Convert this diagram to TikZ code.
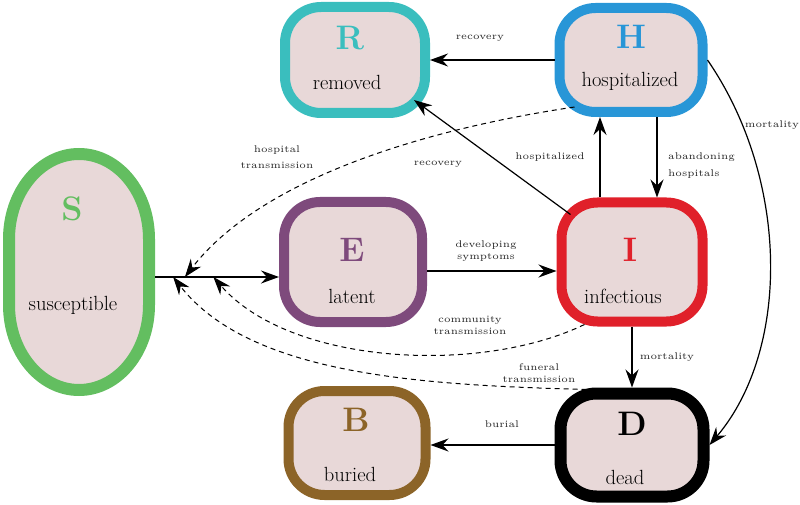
\documentclass[tikz,border=0pt]{standalone}
\usepackage{graphicx}
\usetikzlibrary{arrows.meta,calc}
\definecolor{fillc}{HTML}{E8D8D8}
\definecolor{rcol}{HTML}{3ABEBE}
\definecolor{hcol}{HTML}{2896D7}
\definecolor{ecol}{HTML}{7E4A7C}
\definecolor{icol}{HTML}{E0202A}
\definecolor{bcol}{HTML}{8C6428}
\definecolor{scol}{HTML}{63BE60}
\newcommand\lab[1]{\scalebox{2}{\fontsize{4.85}{6}\selectfont\begin{tabular}{@{}c@{}}#1\end{tabular}}}
\newcommand\labl[1]{\scalebox{2}{\fontsize{4.85}{6}\selectfont\begin{tabular}{@{}l@{}}#1\end{tabular}}}
\begin{document}
\begin{tikzpicture}[x=1pt,y=-1pt,
  box/.style={draw, fill=fillc, line width=10pt, rounded corners=36pt, inner sep=0pt},
  big/.style={font=\fontsize{34}{40}\selectfont\bfseries, inner sep=0pt},
  nm/.style={font=\fontsize{20.5}{24}\selectfont, inner sep=0pt},
  lb/.style={inner sep=0pt, text=black!85},
  arr/.style={line width=1.2pt, -{Stealth[length=18pt,width=13pt,inset=6pt]}},
  dsh/.style={arr, dash pattern=on 5pt off 4pt, line width=1pt},
]
\useasboundingbox (0,0) rectangle (800,505);
% state boxes
\node[box, draw=rcol, minimum width=140pt, minimum height=106pt] (R) at (355,60) {};
\node[box, draw=hcol, minimum width=143pt, minimum height=104pt] (H) at (631,60) {};
\node[box, draw=ecol, minimum width=138pt, minimum height=120pt] (E) at (353,262) {};
\node[box, draw=icol, minimum width=141pt, minimum height=119pt] (I) at (632,262) {};
\node[box, draw=bcol, minimum width=137pt, minimum height=104pt] (B) at (357,443) {};
\node[box, draw=black, line width=12pt, minimum width=143pt, minimum height=103pt] (D) at (632,445) {};
\node[inner sep=0pt, minimum width=152pt, minimum height=248pt] (S) at (79,272) {};
\draw[line width=12pt, draw=scol, fill=fillc] (9,239) arc[start angle=180, end angle=360, x radius=70, y radius=85] -- (149,305) arc[start angle=0, end angle=180, x radius=70, y radius=85] -- cycle;
% texts
\node[big, text=rcol] (Rl) at ([shift={(-5,-22)}]R.center) {R};
\node[nm] (Rn) at ([shift={(-8,22)}]R.center) {removed};
\node[big, text=hcol] (Hl) at ([shift={(0,-23)}]H.center) {H};
\node[nm] (Hn) at ([shift={(-1,21)}]H.center) {hospitalized};
\node[big, text=ecol] (El) at ([shift={(-1,-12)}]E.center) {E};
\node[nm] (En) at ([shift={(-1,34)}]E.center) {latent};
\node[big, text=icol] (Il) at ([shift={(-2,-12)}]I.center) {I};
\node[nm] (In) at ([shift={(-9,34)}]I.center) {infectious};
\node[big, text=bcol] (Bl) at ([shift={(-1,-23)}]B.center) {B};
\node[nm] (Bn) at ([shift={(-7,31)}]B.center) {buried};
\node[big, text=black] (Dl) at ([shift={(0,-21)}]D.center) {D};
\node[nm] (Dn) at ([shift={(-7,32)}]D.center) {dead};
\node[big, text=scol] (Sl) at ([shift={(-7,-63)}]S.center) {S};
\node[nm] (Sn) at ([shift={(-6,33)}]S.center) {susceptible};
% solid connectors
\draw[arr] (H.west) -- (R.east);
\draw[arr] ([shift={(14,17)}]I.north west) -- ([shift={(-16,-18)}]R.south east);
\draw[arr] ([xshift=-32pt]I.north) -- ([xshift=-32pt]I.north |- H.south);
\draw[arr] ([xshift=26pt]H.south) -- ([xshift=26pt]H.south |- I.north);
\draw[arr] (H.east) .. controls (790,180) and (790,350) .. (D.east);
\draw[arr] ([yshift=-9pt]E.east) -- ([yshift=-9pt]E.east -| I.west);
\coordinate (se1) at ([yshift=-5pt]S.east);
\coordinate (se2) at (se1 -| E.west);
\draw[arr] (se1) -- (se2);
\draw[arr] (I.south) -- (D.north);
\draw[arr] (D.west) -- (D.west -| B.east);
% dashed connectors
\coordinate (tH) at ($(se1)!0.24!(se2)$);
\coordinate (tC) at ($(se1)!0.47!(se2)$);
\coordinate (tF) at ($(se1)!0.145!(se2)$);
\draw[dsh] ([shift={(20,-10)}]H.south west) .. controls (420,130) and (260,180) .. (tH);
\draw[dsh] ([shift={(28,-2)}]I.south west) .. controls (480,375) and (290,365) .. (tC);
\draw[dsh] ([shift={(32,2)}]D.north west) .. controls (420,385) and (250,375) .. (tF);
% labels
\node[lb] (l1) at (480,37) {\lab{recovery}};
\node[lb] (l2) at (438,163) {\lab{recovery}};
\node[lb] (l3) at (550,157) {\lab{hospitalized}};
\node[lb, anchor=west] (l4) at (668,166) {\labl{abandoning\\[2.5pt]hospitals}};
\node[lb] (l5) at (772,125) {\lab{mortality}};
\node[lb] (l6) at (277,158) {\lab{hospital\\[2pt]transmission}};
\node[lb] (l7) at (486,251) {\lab{developing\\symptoms}};
\node[lb] (l8) at (470,326) {\lab{community\\transmission}};
\node[lb] (l9) at (667,357) {\lab{mortality}};
\node[lb] (l10) at (539,374) {\lab{funeral\\transmission}};
\node[lb] (l11) at (502,425) {\lab{burial}};
\end{tikzpicture}
\end{document}
